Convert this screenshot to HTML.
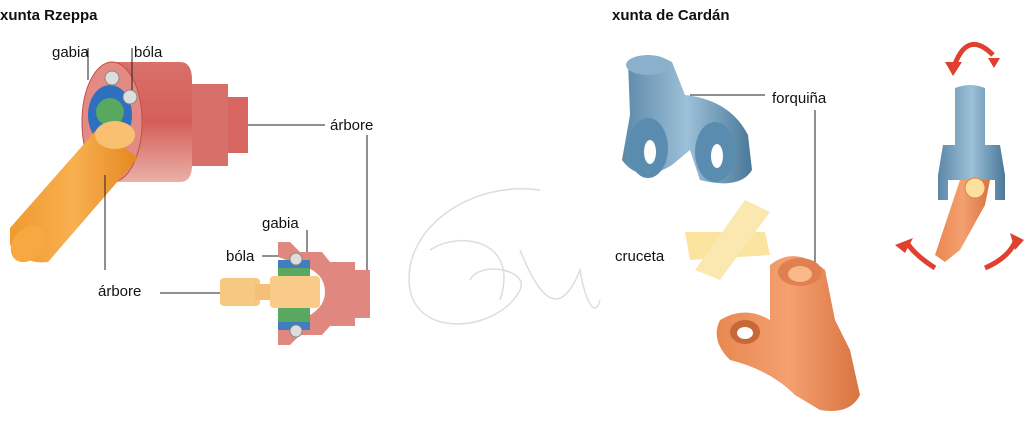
<!DOCTYPE html>
<html><head><meta charset="utf-8"><style>
html,body{margin:0;padding:0;background:#fff;}
svg{display:block;}
text{font-family:"Liberation Sans",sans-serif;font-size:15px;fill:#111;}
.b{font-weight:bold;}
</style></head><body>
<svg width="1024" height="427" viewBox="0 0 1024 427" xmlns="http://www.w3.org/2000/svg">
<defs>
<linearGradient id="pk" x1="0" y1="0" x2="0" y2="1"><stop offset="0" stop-color="#d9706a"/><stop offset=".5" stop-color="#d45f58"/><stop offset="1" stop-color="#eab0a8"/></linearGradient>
<linearGradient id="or" x1="0" y1="0" x2="1" y2="0"><stop offset="0" stop-color="#f09a30"/><stop offset=".5" stop-color="#f8b050"/><stop offset="1" stop-color="#e48820"/></linearGradient>
<linearGradient id="bl" x1="0" y1="0" x2="1" y2="0"><stop offset="0" stop-color="#5c88a8"/><stop offset=".5" stop-color="#9cc0d8"/><stop offset="1" stop-color="#4a7898"/></linearGradient>
<linearGradient id="co" x1="0" y1="0" x2="1" y2="0"><stop offset="0" stop-color="#e88850"/><stop offset=".5" stop-color="#f4a070"/><stop offset="1" stop-color="#d87440"/></linearGradient>
</defs>
<g fill="none" stroke="#ddd" stroke-width="1.5">
<path d="M540 190 C470 180 400 230 410 290 C420 340 500 330 520 290 C530 270 480 260 470 280"/>
<path d="M430 250 C460 230 520 240 500 300"/>
<path d="M520 250 C540 300 560 320 580 270 C585 300 595 320 600 300"/>
</g>
<text x="0" y="20" class="b">xunta Rzeppa</text>
<text x="612" y="20" class="b">xunta de Cardán</text>
<!-- Rzeppa -->
<rect x="222" y="97" width="26" height="56" fill="#d86660"/>
<rect x="190" y="84" width="38" height="82" fill="#d8706a"/>
<path d="M112 62 H180 Q192 62 192 80 V165 Q192 182 180 182 H112 Z" fill="url(#pk)"/>
<ellipse cx="112" cy="122" rx="30" ry="60" fill="#e48a84" stroke="#c05048" stroke-width="1"/>
<ellipse cx="110" cy="115" rx="22" ry="30" fill="#2e6fc0"/>
<ellipse cx="110" cy="112" rx="14" ry="14" fill="#58a860"/>
<circle cx="112" cy="78" r="7" fill="#ddd" stroke="#888"/>
<circle cx="130" cy="97" r="7" fill="#ddd" stroke="#888"/>
<path d="M10 228 L98 128 L138 158 L48 262 Q25 265 10 245 Z" fill="url(#or)"/>
<ellipse cx="28" cy="244" rx="15" ry="20" transform="rotate(40 28 244)" fill="#f7a840"/>
<ellipse cx="115" cy="135" rx="20" ry="14" fill="#f8c070"/>
<g stroke="#222" stroke-width="1" fill="none">
<path d="M88 48 V80"/><path d="M132 48 V90"/>
<path d="M248 125 H325"/><path d="M367 135 V272 H360"/>
<path d="M105 175 V270"/>
<path d="M307 230 V258"/><path d="M262 256 H290"/><path d="M160 293 H225"/>
<path d="M690 95 H765"/><path d="M815 110 V265"/>
</g>
<text x="52" y="57">gabia</text><text x="134" y="57">bóla</text>
<text x="330" y="130">árbore</text>
<text x="98" y="296">árbore</text>
<text x="262" y="228">gabia</text><text x="226" y="261">bóla</text>
<text x="772" y="103">forquiña</text><text x="615" y="261">cruceta</text>
<!-- section -->
<path d="M278 242 H290 L300 252 H322 L330 262 H355 V270 H370 V318 H355 V326 H330 L322 335 H300 L290 345 H278 V330 L300 320 Q325 310 325 292 Q325 272 300 265 L278 257 Z" fill="#e08880"/>
<rect x="278" y="260" width="32" height="70" fill="#5aa860"/>
<rect x="278" y="260" width="32" height="8" fill="#3f7fc0"/><rect x="278" y="322" width="32" height="8" fill="#3f7fc0"/>
<circle cx="296" cy="259" r="6" fill="#ddd" stroke="#888"/><circle cx="296" cy="331" r="6" fill="#ddd" stroke="#888"/>
<rect x="220" y="278" width="40" height="28" rx="4" fill="#f6c880"/>
<rect x="255" y="284" width="18" height="16" fill="#f4c078"/>
<rect x="270" y="276" width="50" height="32" rx="4" fill="#f8cc88"/>
<!-- blue fork -->
<path d="M628 62 Q650 50 672 62 L685 95 Q730 100 748 135 L752 170 Q740 190 700 180 L690 150 L672 165 Q640 185 622 160 L630 115 Z" fill="url(#bl)"/>
<ellipse cx="648" cy="148" rx="20" ry="30" fill="#5a8cb0"/><ellipse cx="650" cy="152" rx="6" ry="12" fill="#fff"/>
<ellipse cx="715" cy="152" rx="20" ry="30" fill="#5a8cb0"/><ellipse cx="717" cy="156" rx="6" ry="12" fill="#fff"/>
<ellipse cx="648" cy="65" rx="22" ry="10" fill="#8ab0cc"/>
<!-- cross -->
<path d="M685 232 L765 232 L770 255 L690 260 Z" fill="#fbe3a0"/>
<path d="M745 200 L770 212 L720 280 L695 270 Z" fill="#fbe8b0"/>
<!-- orange fork -->
<path d="M770 265 Q795 245 825 270 L835 320 L850 350 L860 395 Q850 415 820 410 L795 395 Q770 370 730 360 Q710 340 720 320 Q745 305 770 320 Z" fill="url(#co)"/>
<ellipse cx="800" cy="272" rx="22" ry="14" fill="#e08050"/><ellipse cx="800" cy="274" rx="12" ry="8" fill="#f8b888"/>
<ellipse cx="745" cy="332" rx="15" ry="12" fill="#c86838"/><ellipse cx="745" cy="333" rx="8" ry="6" fill="#fff"/>
<!-- small cardan -->
<path d="M955 88 Q970 82 985 88 V145 H1000 L1005 175 V200 H995 V180 H948 V200 H938 V175 L943 145 H955 Z" fill="url(#bl)"/>
<path d="M960 180 L990 180 L985 205 L960 250 L945 262 L935 255 L950 210 Z" fill="url(#co)"/>
<circle cx="975" cy="188" r="10" fill="#fbe0a0" stroke="#e08040"/>
<g fill="none" stroke="#e04030" stroke-width="5">
<path d="M955 64 Q968 30 993 55"/><path d="M935 268 Q915 255 908 244"/><path d="M985 268 Q1008 258 1015 242"/>
</g>
<path d="M945 62 L962 62 L953 76 Z M988 58 L1000 58 L994 68 Z M895 245 L913 238 L905 253 Z M1010 233 L1024 240 L1015 250 Z" fill="#e04030"/>
</svg>
</body></html>
